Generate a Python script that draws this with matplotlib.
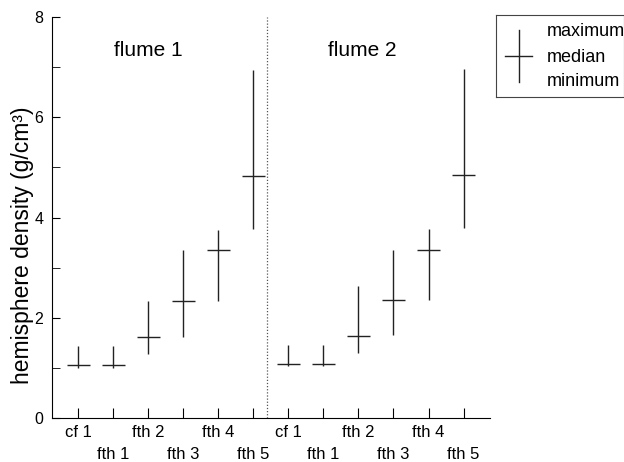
import numpy as np
import matplotlib.pyplot as plt

plt.rcParams['font.family'] = ['Liberation Sans', 'DejaVu Sans']

labels = ['cf 1', 'fth 1', 'fth 2', 'fth 3', 'fth 4', 'fth 5'] * 2
# flume 1 then flume 2
maximum = [1.43, 1.43, 2.33, 3.35, 3.76, 6.95,
           1.45, 1.45, 2.63, 3.36, 3.78, 6.97]
median = [1.06, 1.05, 1.62, 2.34, 3.36, 4.83,
          1.08, 1.08, 1.64, 2.35, 3.36, 4.85]
minimum = [1.00, 1.00, 1.27, 1.62, 2.33, 3.78,
           1.04, 1.04, 1.29, 1.65, 2.35, 3.79]
groups = ['flume 1', 'flume 2']

x = np.arange(len(labels))

fig = plt.figure(figsize=(6.24, 4.62), dpi=100)
ax = fig.add_axes([0.083, 0.095, 0.702, 0.868])

ax.vlines(x, minimum, maximum, color='#222222', lw=1.0)
ax.hlines(median, x - 0.33, x + 0.33, color='#222222', lw=1.0)

# divider between the two flumes
ax.axvline(5.4, color='#555555', lw=0.9, ls=(0, (1, 1.5)))

ax.text(2.0, 7.33, groups[0], ha='center', va='center', fontsize=15)
ax.text(8.1, 7.33, groups[1], ha='center', va='center', fontsize=15)

ax.set_xlim(-0.75, 11.75)
ax.set_ylim(0, 8)
ax.set_yticks([0, 2, 4, 6, 8])
ax.set_yticks([1, 3, 5, 7], minor=True)
ax.set_xticks(x)
ax.set_xticklabels(labels, fontsize=12)
for i, t in enumerate(ax.xaxis.get_major_ticks()):
    t.set_pad(5 if i % 2 == 0 else 21)

ax.tick_params(axis='y', which='both', direction='in', length=6, labelsize=11.5, pad=6)
ax.tick_params(axis='x', direction='in', length=7)
ax.spines['top'].set_visible(False)
ax.spines['right'].set_visible(False)
ax.set_ylabel('hemisphere density (g/cm³)', fontsize=16.5)
ax.yaxis.label.set_va('center')
ax.yaxis.set_label_coords(-0.066, 0.43)

# legend box
lg = fig.add_axes([496 / 624, 1 - 97 / 462, 128 / 624, 82 / 462])
lg.set_xlim(0, 128)
lg.set_ylim(82, 0)
lg.set_xticks([])
lg.set_yticks([])
for s in lg.spines.values():
    s.set_color('#444444')
    s.set_linewidth(0.8)
lg.plot([23, 23], [15, 67], color='#222222', lw=1.0)
lg.plot([9, 36], [41, 41], color='#222222', lw=1.0)
for yy, name in zip([17, 42, 67], ['maximum', 'median', 'minimum']):
    lg.text(51, yy, name, va='center', fontsize=13)

fig.savefig('out.png', dpi=100)
